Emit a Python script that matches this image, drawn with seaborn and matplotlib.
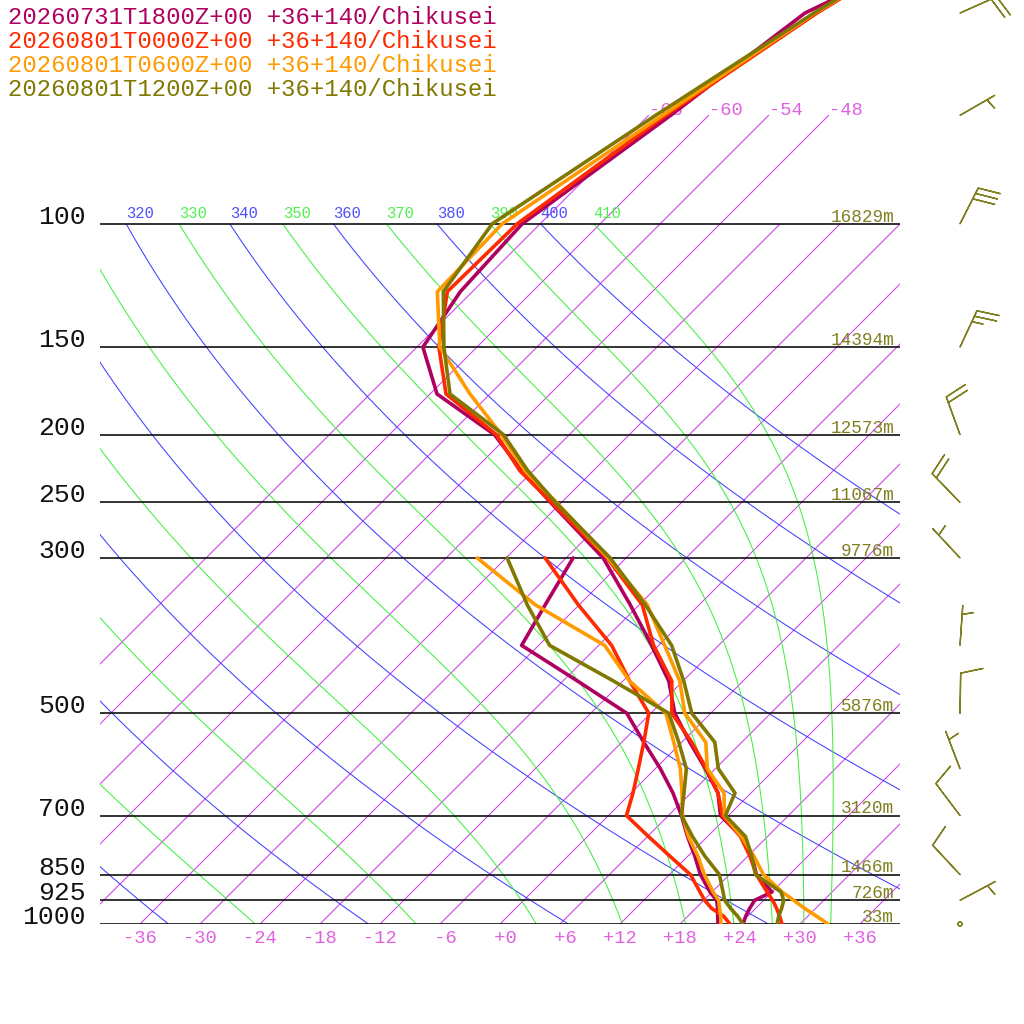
import numpy as np
import pandas as pd
import matplotlib
matplotlib.use("Agg")
import matplotlib.pyplot as plt
import seaborn as sns

# pressure levels of the soundings (hPa)
levels = [1000, 975, 950, 925, 900, 850, 800, 750, 700, 650, 600, 550, 500,
          450, 400, 350, 300, 250, 225, 200, 175, 150, 125, 100, 70, 50, 30]
dew_levels = levels[:17]  # dew point is given up to 300 hPa

run_labels = ["20260731T1800Z+00 +36+140/Chikusei",
              "20260801T0000Z+00 +36+140/Chikusei",
              "20260801T0600Z+00 +36+140/Chikusei",
              "20260801T1200Z+00 +36+140/Chikusei"]
run_colors = ["#b0005f", "#ff2a00", "#ff9a00", "#807800"]

temp_1800 = [24.3, 23.8, 23.4, 23.1, 24.0, 20.7, 18.4, 15.4, 11.2, 8.7, 5.0, 0.8, -3.6,
             -7.4, -12.7, -18.9, -26.3, -37.1, -43.2, -49.5, -59.3, -65.4, -67.2, -67.8,
             -63.8, -60.6, -44.0]
dewp_1800 = [21.8, 21.0, 20.2, 19.3, 17.8, 15.1, 12.7, 10.0, 7.3, 4.2, 0.5, -3.8, -8.4,
             -16.5, -25.7, -27.4, -29.3]
temp_0000 = [28.2, 27.2, 26.1, 24.9, 23.5, 20.7, 18.2, 15.3, 11.4, 8.7, 5.1, 1.0, -3.9,
             -7.1, -12.5, -17.7, -25.9, -37.0, -43.4, -49.3, -58.4, -63.8, -68.5, -68.3,
             -64.3, -59.4, -49.5]
dewp_0000 = [23.0, 21.6, 19.6, 18.1, 16.8, 14.1, 10.2, 6.1, 1.8, 0.2, -1.7, -3.8, -6.2,
             -11.3, -16.7, -24.1, -32.1]
temp_0600 = [32.8, 30.9, 28.9, 27.0, 25.0, 21.4, 18.6, 15.4, 11.6, 9.3, 5.2, 2.4, -2.6,
             -6.3, -11.4, -17.2, -25.8, -36.5, -42.9, -48.8, -56.0, -63.7, -69.5, -69.8,
             -64.6, -59.6, -49.5]
dewp_0600 = [22.1, 21.3, 20.4, 19.5, 18.1, 15.5, 13.0, 10.1, 7.4, 5.1, 2.5, -0.8, -4.5,
             -11.3, -17.4, -28.4, -38.9]
temp_1200 = [27.7, 27.1, 26.6, 26.0, 24.9, 20.6, 18.4, 15.8, 11.7, 10.4, 6.3, 3.3, -1.9,
             -5.9, -10.7, -17.4, -25.6, -36.6, -42.6, -48.6, -58.0, -63.3, -68.9, -70.8,
             -65.3, -59.7, -50.0]
dewp_1200 = [24.3, 23.0, 21.5, 20.1, 19.1, 17.0, 13.7, 10.5, 7.3, 5.3, 3.1, -0.3, -4.2,
             -12.9, -22.9, -29.2, -35.9]

# winds of the last run (direction the wind blows from, speed in barb units)
wind_levels = [1000, 925, 850, 700, 600, 500, 400, 300, 250, 200, 150, 100, 70, 50]
wind_dir = [0, 62, 317, 323, 339, 1, 4, 317, 316, 340, 25, 27, 60, 66]
wind_spd = [0, 5, 10, 10, 5, 10, 5, 5, 20, 20, 25, 30, 5, 20]

label_levels = [100, 150, 200, 250, 300, 500, 700, 850, 925, 1000]
heights = ["16829m", "14394m", "12573m", "11067m", "9776m",
           "5876m", "3120m", "1466m", "726m", "33m"]

isotherms = list(range(-66, 37, 6))
dry_thetas = list(range(220, 401, 20))
moist_thetas = list(range(230, 411, 20))

P_TOP = 47.9
SKEW = 924 / np.log(1000 / P_TOP) / 10.0  # 45 degree isotherms


def skew_x(t, p):
    return np.asarray(t) + SKEW * np.log(1000.0 / np.asarray(p, dtype=float))


def moist_adiabat(theta, pres):
    """Pseudo-adiabat that has potential temperature theta at pres[0]."""
    rd, cp, lv, eps = 287.04, 1005.7, 2.501e6, 0.622

    def dtdp(t, p):
        es = 6.112 * np.exp(17.67 * (t - 273.15) / (t - 29.65))
        rs = eps * es / (p - es)
        return (rd * t + lv * rs) / (p * (cp + lv * lv * rs * eps / (rd * t * t)))

    t = theta * (pres[0] / 1000.0) ** (rd / cp)
    out = [t]
    for i in range(1, len(pres)):
        h = pres[i] - pres[i - 1]
        p0 = pres[i - 1]
        k1 = dtdp(t, p0)
        k2 = dtdp(t + h * k1 / 2, p0 + h / 2)
        k3 = dtdp(t + h * k2 / 2, p0 + h / 2)
        k4 = dtdp(t + h * k3, p0 + h)
        t = t + h * (k1 + 2 * k2 + 2 * k3 + k4) / 6
        out.append(t)
    return np.array(out) - 273.15


sns.set_style("white")
plt.rcParams["font.family"] = ["Liberation Mono", "DejaVu Sans Mono"]

fig = plt.figure(figsize=(10.24, 10.24), dpi=100)
ax = fig.add_axes([100 / 1024, 100 / 1024, 800 / 1024, 924 / 1024])
ax.set_yscale("log")
ax.set_xlim(-40, 40)
ax.set_ylim(1000, P_TOP)
ax.axis("off")

purple_c, blue_c, green_c = "#d040f0", "#4040ff", "#40f040"

# isotherms
for t in isotherms:
    ptop = 70 if t <= -48 else 100
    pp = np.array([1000, ptop])
    ax.plot(skew_x([t, t], pp), pp, color=purple_c, lw=0.75, zorder=1)
    if t <= -48:
        ax.text(skew_x(t, ptop), ptop, str(t), color="#e060e0", fontsize=13.5,
                ha="left", va="baseline", clip_on=True)
    if skew_x(t, 1000) >= -40:
        ax.annotate(f"{t:+3d}", (skew_x(t, 1000), 1000), xytext=(0, -4),
                    textcoords="offset points", ha="center", va="top",
                    color="#e060e0", fontsize=13.5, annotation_clip=False)

# dry adiabats
pp = np.geomspace(1000, 100, 120)
for th in dry_thetas:
    tt = th * (pp / 1000.0) ** 0.2857 - 273.15
    ax.plot(skew_x(tt, pp), pp, color=blue_c, lw=0.75, zorder=1)
    ax.annotate(str(th), (skew_x(tt[-1], 100), 100), xytext=(0, 4.5),
                textcoords="offset points", ha="left", va="baseline",
                color="#5050ff", fontsize=11.2).set_clip_on(True)

# moist adiabats
pm = np.linspace(100, 1000, 400)
for th in moist_thetas:
    tt = moist_adiabat(th, pm)
    ax.plot(skew_x(tt, pm), pm, color=green_c, lw=0.75, zorder=1)
    ax.annotate(str(th), (skew_x(tt[0], 100), 100), xytext=(0, 4.5),
                textcoords="offset points", ha="left", va="baseline",
                color="#50ee50", fontsize=11.2).set_clip_on(True)

# isobars, pressure and height labels
for p, h in zip(label_levels, heights):
    ax.plot([-40, 40], [p, p], color="#111111", lw=1.2, zorder=2)
    ax.text(-41.4, p, str(p), ha="right", va="baseline", fontsize=19,
            color="#111111", clip_on=False)
    ax.annotate(h, (39.4, p), xytext=(0, 1.5), textcoords="offset points",
                ha="right", va="baseline", fontsize=12.8, color="#808020")

# soundings
runs = [(temp_1800, dewp_1800), (temp_0000, dewp_0000),
        (temp_0600, dewp_0600), (temp_1200, dewp_1200)]
for (temp, dewp), col in zip(runs, run_colors):
    df_t = pd.DataFrame({"x": skew_x(temp, levels), "p": levels})
    df_d = pd.DataFrame({"x": skew_x(dewp, dew_levels), "p": dew_levels})
    for df in (df_d, df_t):
        sns.lineplot(data=df, x="x", y="p", sort=False, estimator=None,
                     color=col, lw=2.6, ax=ax, zorder=5)

# wind barbs
rad = np.deg2rad(wind_dir)
u = -np.array(wind_spd) * np.sin(rad)
v = -np.array(wind_spd) * np.cos(rad)
ax.barbs(np.full(len(wind_levels), 46.0), wind_levels, u, v, length=7.6,
         color="#808020", linewidth=1.0, clip_on=False, zorder=6,
         sizes=dict(spacing=0.15, height=0.55, emptybarb=0.05))

ax.set_xlim(-40, 40)
ax.set_ylim(1000, P_TOP)
ax.axis("off")

# run legend
for i, (lab, col) in enumerate(zip(run_labels, run_colors)):
    fig.text(8 / 1024, 1 - (17.5 + 24 * i) / 1024, lab, color=col,
             fontsize=17.2, ha="left", va="center")

fig.savefig("out.png", dpi=100)
